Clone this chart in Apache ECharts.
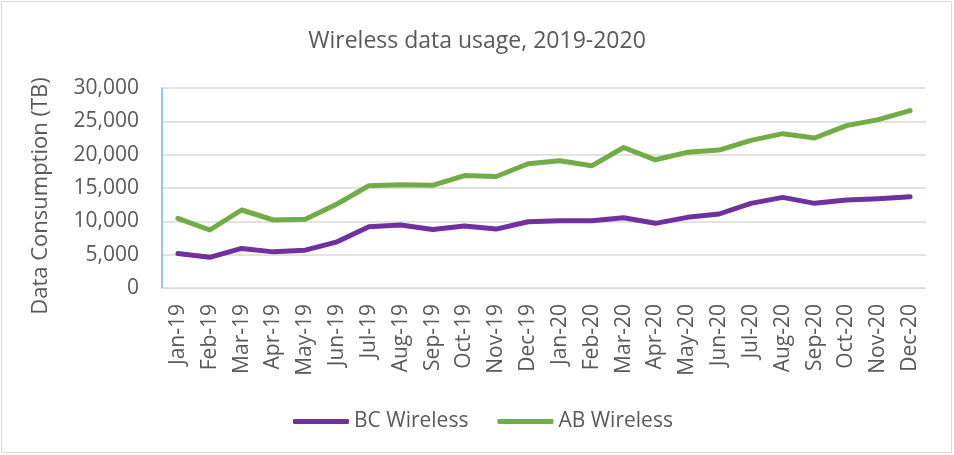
<!DOCTYPE html>
<html>
<head>
<meta charset="utf-8">
<script src="https://cdn.jsdelivr.net/npm/echarts@6/dist/echarts.min.js"></script>
<style>html,body{margin:0;padding:0;background:#fff}#c{width:954px;height:455px}</style>
</head>
<body>
<div id="c"></div>
<script>
const categories = ['Jan-19','Feb-19','Mar-19','Apr-19','May-19','Jun-19','Jul-19','Aug-19','Sep-19','Oct-19','Nov-19','Dec-19',
  'Jan-20','Feb-20','Mar-20','Apr-20','May-20','Jun-20','Jul-20','Aug-20','Sep-20','Oct-20','Nov-20','Dec-20'];
const bcWireless = [5180,4600,5930,5420,5680,6930,9190,9440,8790,9300,8840,9940,10090,10090,10540,9700,10600,11100,12700,13600,12700,13200,13400,13700];
const abWireless = [10450,8700,11700,10200,10300,12600,15350,15470,15400,16870,16720,18630,19080,18330,21080,19230,20350,20690,22140,23150,22500,24350,25260,26610];
const yTicks = {min:0, max:30000, interval:5000};

const font = 'Open Sans';
const chart = echarts.init(document.getElementById('c'));
chart.setOption({
  animation:false,
  title:{text:'Wireless data usage, 2019-2020', left:'center', top:25,
    textStyle:{fontFamily:font, fontSize:23, fontWeight:'normal', color:'#595959'}},
  graphic:[{type:'rect', shape:{x:1.5,y:1.5,width:950,height:451}, style:{fill:'none', stroke:'#d9d9d9', lineWidth:1}}],
  grid:{left:162, right:28, top:88, bottom:167},
  legend:{left:288, top:406, itemWidth:56, itemHeight:5, itemGap:29, icon:'roundRect',
    textStyle:{fontFamily:font, fontSize:21, color:'#595959'},
    data:['BC Wireless','AB Wireless']},
  xAxis:{type:'category', data:categories, boundaryGap:true,
    axisLine:{lineStyle:{color:'#d9d9d9', width:1}}, axisTick:{show:false},
    axisLabel:{rotate:90, margin:16, interval:0, fontFamily:font, fontSize:21, color:'#595959'}},
  yAxis:{type:'value', min:yTicks.min, max:yTicks.max, interval:yTicks.interval,
    name:'Data Consumption (TB)', nameLocation:'middle', nameGap:110,
    nameTextStyle:{fontFamily:font, fontSize:22, color:'#595959', padding:[0,16,0,0]},
    axisLine:{show:true, lineStyle:{color:'#7fb0e0', width:1.5}}, axisTick:{show:false},
    axisLabel:{margin:23, fontFamily:font, fontSize:21, color:'#595959',
      formatter:v=>v.toLocaleString('en-US')},
    splitLine:{lineStyle:{color:'#d9d9d9', width:1.5}}},
  series:[
    {name:'BC Wireless', type:'line', data:bcWireless, showSymbol:false, symbol:'none',
      lineStyle:{color:'#7030a0', width:5, cap:'round', join:'round'}, itemStyle:{color:'#7030a0'}},
    {name:'AB Wireless', type:'line', data:abWireless, showSymbol:false, symbol:'none',
      lineStyle:{color:'#70ad47', width:5, cap:'round', join:'round'}, itemStyle:{color:'#70ad47'}}
  ]
});
</script>
</body>
</html>
